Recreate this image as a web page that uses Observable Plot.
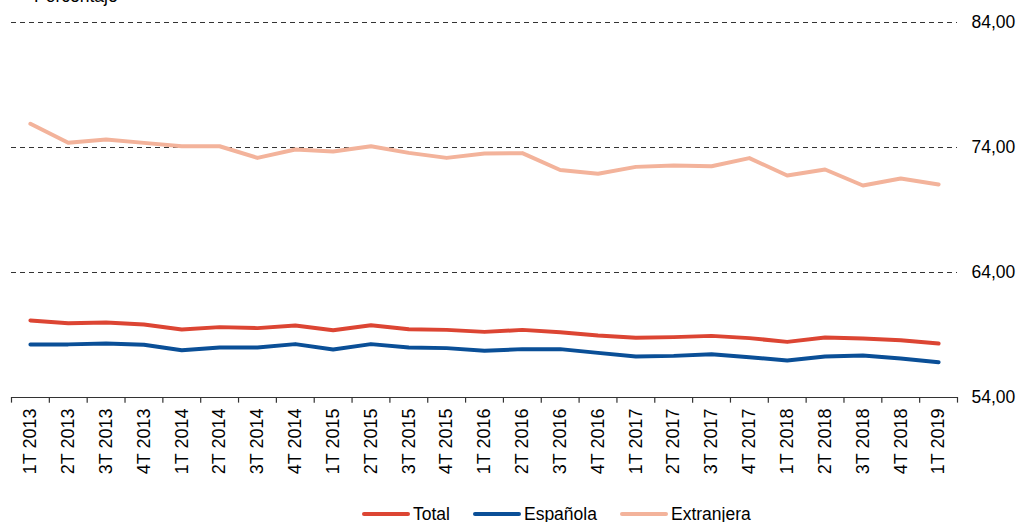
<!DOCTYPE html>
<html>
<head>
<meta charset="utf-8">
<script src="https://cdn.jsdelivr.net/npm/d3@7"></script>
<script src="https://cdn.jsdelivr.net/npm/@observablehq/plot@0.6"></script>
<style>
  body { margin: 0; background: #fff; font-family: "Liberation Sans", Arial, sans-serif; overflow: hidden; }
  #wrap { position: relative; width: 1019px; height: 522px; }
  #title { position: absolute; left: 34px; top: -14px; font-size: 17.5px; line-height: 20px; color: #000; }
  #chart { position: absolute; left: 0; top: 0; }
  #legend { position: absolute; left: 362px; top: 504px; display: flex; font-size: 17.5px; line-height: 20px; color: #000; }
  .item { display: flex; align-items: center; margin-right: 23px; }
  .sw { width: 48px; height: 4px; border-radius: 2px; margin-right: 3px; }
</style>
</head>
<body>
<div id="wrap">
  <div id="chart"></div>
  <div id="title">Porcentaje</div>
  <div id="legend"></div>
</div>
<script>
const quarters = ["1T 2013","2T 2013","3T 2013","4T 2013","1T 2014","2T 2014","3T 2014","4T 2014","1T 2015","2T 2015","3T 2015","4T 2015","1T 2016","2T 2016","3T 2016","4T 2016","1T 2017","2T 2017","3T 2017","4T 2017","1T 2018","2T 2018","3T 2018","4T 2018","1T 2019"];
const total = [60.16,59.94,60.00,59.84,59.44,59.63,59.55,59.76,59.38,59.78,59.46,59.41,59.25,59.41,59.22,58.96,58.78,58.83,58.93,58.75,58.45,58.80,58.72,58.58,58.32];
const espanola = [58.25,58.25,58.32,58.22,57.78,58.00,58.00,58.27,57.84,58.27,58.00,57.95,57.74,57.87,57.87,57.57,57.28,57.33,57.46,57.22,56.96,57.28,57.36,57.12,56.82];
const extranjera = [75.90,74.38,74.64,74.37,74.10,74.10,73.17,73.84,73.68,74.10,73.57,73.17,73.52,73.55,72.20,71.90,72.45,72.56,72.50,73.15,71.76,72.24,70.96,71.52,71.04];
const seriesNames = ["Total","Española","Extranjera"];
const seriesColors = ["#dc4533","#0a4f97","#f3b39b"];
const yTicks = [54,64,74,84];

const seriesValues = [total, espanola, extranjera];
const rows = [];
seriesNames.forEach((s, i) => quarters.forEach((q, j) => rows.push({serie: s, q, v: seriesValues[i][j]})));

const W = 1019, H = 490, ML = 11, MR = 62, MT = 22, MB = 93;
const step = (W - ML - MR) / quarters.length;
const fmt = d => d.toFixed(2).replace(".", ",");

const chart = Plot.plot({
  width: W, height: H,
  marginLeft: ML, marginRight: MR, marginTop: MT, marginBottom: MB,
  style: {fontFamily: "Liberation Sans, Arial, sans-serif", background: "#fff"},
  x: {type: "point", domain: quarters, padding: 0.5, round: false, label: null},
  y: {domain: [54, 84], label: null},
  color: {domain: seriesNames, range: seriesColors},
  marks: [
    Plot.ruleY(yTicks.filter(d => d > 54), {stroke: "#333", strokeWidth: 1.2, strokeDasharray: "5,4"}),
    Plot.ruleY([54], {stroke: "#333", strokeWidth: 1.2}),
    Plot.ruleX(quarters, {x: d => d, dx: -step / 2, y1: 54, y2: 53.55, stroke: "#333", strokeWidth: 1.2}),
    Plot.ruleX([quarters[quarters.length - 1]], {x: d => d, dx: step / 2, y1: 54, y2: 53.55, stroke: "#333", strokeWidth: 1.2}),
    Plot.axisY({anchor: "right", ticks: yTicks, tickFormat: fmt, tickSize: 0, tickPadding: 14, fontSize: 17.5, fill: "#000", label: null}),
    Plot.axisX({tickSize: 0, tickPadding: 11, tickRotate: -90, fontSize: 18, fill: "#000", label: null}),
    Plot.line(rows, {x: "q", y: "v", z: "serie", stroke: "serie", strokeWidth: 4, strokeLinejoin: "round", strokeLinecap: "round"})
  ]
});
document.getElementById("chart").appendChild(chart);

const legend = document.getElementById("legend");
seriesNames.forEach((s, i) => {
  const it = document.createElement("div");
  it.className = "item";
  const sw = document.createElement("div");
  sw.className = "sw";
  sw.style.background = seriesColors[i];
  const tx = document.createElement("span");
  tx.textContent = s;
  it.appendChild(sw); it.appendChild(tx);
  legend.appendChild(it);
});
</script>
</body>
</html>
